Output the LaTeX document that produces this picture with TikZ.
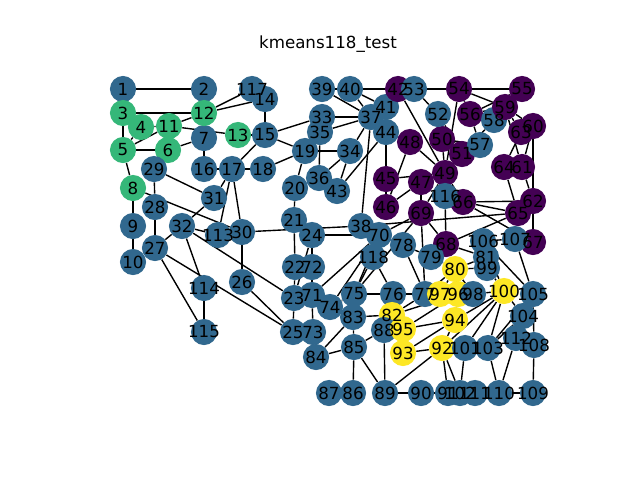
\documentclass[tikz,border=0pt]{standalone}
\usepackage{fontspec}
\setmainfont{DejaVu Sans}
\usetikzlibrary{backgrounds}
\definecolor{cpurple}{HTML}{440154}
\definecolor{cblue}{HTML}{31688E}
\definecolor{cgreen}{HTML}{35B779}
\definecolor{cyellow}{HTML}{FDE725}

\begin{document}
\begin{tikzpicture}[x=0.72pt,y=-0.72pt,
  bus/.style={circle,inner sep=0pt,minimum size=18.8pt},
  busline/.style={line width=1pt,black},
  buslabel/.style={font=\fontsize{12}{14}\selectfont,inner sep=0pt}]
\useasboundingbox (0,0) rectangle (640,480);

\node[buslabel] (title) at (328,44) {kmeans118\_test};

% buses: number / x / y / cluster colour
\foreach \i/\x/\y/\c in {
  1/123/89/cblue, 2/204/89/cblue, 3/123/113/cgreen, 4/141/127/cgreen,
  5/123/150/cgreen, 6/168/150/cgreen, 7/204/138/cblue, 8/133/188/cgreen,
  9/133/226/cblue, 10/133/262/cblue, 11/169/126/cgreen, 12/204/113/cgreen,
  13/238/135/cgreen, 14/265/99/cblue, 15/265/135/cblue, 16/204/169/cblue,
  17/232/169/cblue, 18/263/169/cblue, 19/305/151/cblue, 20/295/188/cblue,
  21/294/220/cblue, 22/295/267/cblue, 23/294/298/cblue, 24/312/235/cblue,
  25/293/332/cblue, 26/242/282/cblue, 27/155/248/cblue, 28/155/207/cblue,
  29/154/169/cblue, 30/242/232/cblue, 31/214/198/cblue, 32/182/226/cblue,
  33/322/117/cblue, 34/350/151/cblue, 35/320/132/cblue, 36/319/178/cblue,
  37/371/117/cblue, 38/361/226/cblue, 39/322/89/cblue, 40/350/89/cblue,
  41/386/107/cblue, 42/398/89/cpurple, 43/337/191/cblue, 44/386/132/cblue,
  45/386/179/cpurple, 46/386/207/cpurple, 47/421/182/cpurple, 48/410/142/cpurple,
  49/445/173/cpurple, 50/442/139/cpurple, 51/462/154/cpurple, 52/438/114/cblue,
  53/414/89/cblue, 54/459/89/cpurple, 55/522/89/cpurple, 56/470/114/cpurple,
  57/480/145/cblue, 58/494/120/cblue, 59/505/107/cpurple, 60/533/126/cpurple,
  61/522/167/cpurple, 62/533/201/cpurple, 63/521/132/cpurple, 64/504/167/cpurple,
  65/518/213/cpurple, 66/463/202/cpurple, 67/533/242/cpurple, 68/446/244/cpurple,
  69/421/213/cpurple, 70/379/235/cblue, 71/312/295/cblue, 72/312/267/cblue,
  73/313/332/cblue, 74/330/307/cblue, 75/354/294/cblue, 76/393/294/cblue,
  77/425/294/cblue, 78/403/245/cblue, 79/431/257/cblue, 80/455/269/cyellow,
  81/486/257/cblue, 82/392/315/cyellow, 83/353/317/cblue, 84/316/357/cblue,
  85/354/347/cblue, 86/353/393/cblue, 87/329/393/cblue, 88/384/330/cblue,
  89/385/393/cblue, 90/421/393/cblue, 91/448/393/cblue, 92/442/348/cyellow,
  93/403/353/cyellow, 94/455/320/cyellow, 95/403/329/cyellow, 96/458/294/cyellow,
  97/440/294/cyellow, 98/473/294/cblue, 99/487/268/cblue, 100/504/291/cyellow,
  101/465/348/cblue, 102/460/393/cblue, 103/488/348/cblue, 104/523/316/cblue,
  105/533/294/cblue, 106/483/241/cblue, 107/515/239/cblue, 108/534/345/cblue,
  109/533/393/cblue, 110/499/393/cblue, 111/475/393/cblue, 112/516/338/cblue,
  113/218/235/cblue, 114/204/288/cblue, 115/204/332/cblue, 116/445/196/cblue,
  117/252/89/cblue, 118/373/257/cblue}
  \node[bus,fill=\c] (n\i) at (\x,\y) {};

\foreach \i in {1,...,118}
  \node[buslabel] (l\i) at (n\i) {\i};

% lines, kept under the buses
\begin{scope}[on background layer]
\foreach \a/\b in {
  1/2, 1/3, 4/5, 3/5, 5/6, 6/7, 8/9, 8/5, 9/10, 4/11, 5/11, 11/12, 2/12, 3/12,
  7/12, 11/13, 12/14, 13/15, 14/15, 12/16, 15/17, 16/17, 17/18, 18/19, 19/20,
  15/19, 20/21, 21/22, 22/23, 23/24, 23/25, 26/25, 25/27, 27/28, 28/29, 30/17,
  8/30, 26/30, 17/31, 29/31, 23/32, 31/32, 27/32, 15/33, 19/34, 35/36, 35/37,
  33/37, 34/36, 34/37, 38/37, 37/39, 37/40, 30/38, 39/40, 40/41, 40/42, 41/42,
  43/44, 34/43, 44/45, 45/46, 46/47, 46/48, 47/49, 42/49, 45/49, 48/49, 49/50,
  49/51, 51/52, 52/53, 53/54, 49/54, 54/55, 54/56, 55/56, 56/57, 50/57, 56/58,
  51/58, 54/59, 56/59, 55/59, 59/60, 59/61, 60/61, 60/62, 61/62, 63/59, 63/64,
  64/61, 38/65, 64/65, 49/66, 62/66, 62/67, 65/66, 66/67, 65/68, 47/69, 49/69,
  68/69, 69/70, 24/70, 70/71, 24/72, 71/72, 71/73, 70/74, 70/75, 69/75, 74/75,
  76/77, 69/77, 75/77, 77/78, 78/79, 77/80, 79/80, 68/81, 81/80, 77/82, 82/83,
  83/84, 83/85, 84/85, 85/86, 86/87, 85/88, 85/89, 88/89, 89/90, 90/91, 89/92,
  91/92, 92/93, 92/94, 93/94, 94/95, 80/96, 82/96, 94/96, 80/97, 80/98, 80/99,
  92/100, 94/100, 95/96, 96/97, 98/100, 99/100, 100/101, 92/102, 101/102,
  100/103, 100/104, 103/104, 103/105, 100/106, 104/105, 105/106, 105/107,
  105/108, 106/107, 108/109, 103/110, 109/110, 110/111, 110/112, 17/113,
  32/113, 32/114, 27/115, 114/115, 68/116, 12/117, 75/118, 76/118}
  \draw[busline] (n\a) -- (n\b);
\end{scope}
\end{tikzpicture}
\end{document}
